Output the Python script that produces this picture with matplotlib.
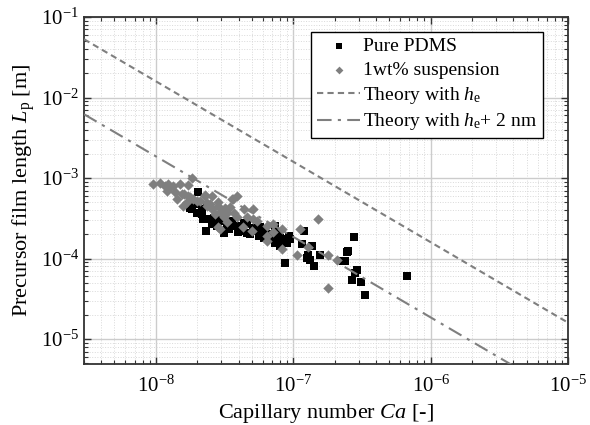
import numpy as np
import matplotlib
matplotlib.use("Agg")
from matplotlib import pyplot as plt
from matplotlib.ticker import LogLocator, NullFormatter, FuncFormatter

plt.rcParams['font.family'] = ['Liberation Serif', 'DejaVu Serif']
plt.rcParams['mathtext.fontset'] = 'custom'
plt.rcParams['mathtext.rm'] = 'Liberation Serif'
plt.rcParams['mathtext.it'] = 'Liberation Serif:italic'

# Pure PDMS: Ca in units of 1e-8, Lp in units of 1e-4 m
pdms_ca = [2.03, 1.83, 2.11, 2.36, 2.33, 2.63, 2.79, 3.11, 3.38, 3.90, 4.24, 4.60,
           4.87, 5.44, 6.08, 6.61, 7.40, 8.04, 9.00, 9.51, 8.75, 11.88, 11.56, 12.9,
           13.3, 14.05, 15.7, 23.9, 25.2, 27.5, 26.7, 29.0, 24.6, 22.98, 28.2, 31.05,
           33.4, 67.8, 9.25, 7.82, 8.04, 13.68, 12.59, 2.17, 1.99, 1.78, 2.49, 3.11,
           2.17, 2.79, 2.94, 3.29, 3.58, 4.35, 4.60, 5.13, 5.59, 6.26, 6.99, 7.82,
           8.52, 9.25, 7.40, 1.94, 2.21, 2.58, 3.60, 3.98, 5.75]
pdms_lp = [6.79, 4.08, 3.71, 4.49, 2.19, 3.22, 2.53, 2.92, 2.30, 2.53, 2.19, 2.65,
           1.99, 2.19, 1.81, 1.99, 2.53, 1.81, 1.57, 1.73, 0.884, 2.19, 1.50, 1.12,
           0.97, 0.80, 1.12, 0.925, 1.23, 1.87, 0.547, 0.73, 1.21, 0.925, 0.66, 0.516,
           0.356, 0.61, 1.76, 1.81, 1.42, 1.42, 1.02, 4.08, 3.71, 4.29, 3.06, 2.09,
           3.54, 2.65, 3.22, 2.41, 2.92, 2.79, 2.09, 2.41, 1.90, 2.19, 1.90, 2.09,
           1.73, 1.90, 1.57, 4.71, 3.06, 2.65, 2.65, 2.11, 2.44]

# 1wt% suspension
susp_ca = [0.948, 1.078, 1.172, 1.275, 1.386, 1.507, 1.703, 1.834, 1.55, 1.72,
           1.585, 1.875, 2.107, 2.29, 2.49, 2.85, 2.71, 3.29, 3.66, 3.48, 3.90, 2.94,
           4.60, 5.12, 5.44, 4.33, 5.01, 6.44, 7.16, 8.28, 6.44, 8.28, 10.64, 11.24,
           12.8, 15.2, 17.98, 20.8, 17.98, 7.16, 1.23, 1.34, 1.206, 1.426, 1.59, 1.78,
           1.99, 1.686, 2.29, 2.36, 2.56, 2.85, 2.94, 3.11, 2.85, 3.29, 2.36, 3.20,
           3.58, 3.68, 4.35, 5.13, 6.44, 2.56, 3.90]
susp_lp = [8.54, 8.79, 7.97, 7.68, 6.65, 8.37, 8.13, 10.0, 6.28, 5.98,
           4.49, 5.44, 5.18, 6.10, 4.71, 4.49, 3.54, 3.71, 5.44, 4.32, 3.25, 2.30,
           3.25, 4.08, 2.92, 2.44, 2.19, 1.90, 2.11, 2.30, 1.64, 1.33, 1.12, 2.30,
           1.41, 3.06, 1.12, 0.97, 0.435, 2.65, 8.37, 7.90, 6.90, 5.44, 6.28, 5.76,
           5.18, 4.99, 5.98, 4.49, 4.08, 4.99, 3.75, 3.25, 2.44, 2.81, 4.95, 4.29,
           5.44, 3.71, 4.08, 3.06, 2.53, 5.98, 5.98]

# theory lines (end points, straight on log-log axes)
theory_ca = [3e-9, 1e-5]
theory_he = [5.3e-2, 1.6e-5]
theory_he2 = [6.2e-3, 1.86e-6]

pdms_ca = np.array(pdms_ca) * 1e-8
pdms_lp = np.array(pdms_lp) * 1e-4
susp_ca = np.array(susp_ca) * 1e-8
susp_lp = np.array(susp_lp) * 1e-4


def pow_fmt(v, pos):
    e = int(round(np.log10(v)))
    return r'$\mathregular{10^{%d}}$' % e


fig = plt.figure(figsize=(5.9, 4.25), dpi=100)
ax = fig.add_axes([0.1424, 0.1435, 0.8203, 0.8165])

grey = '#7f7f7f'
ax.scatter(pdms_ca, pdms_lp, marker='s', s=36, color='black', linewidths=0,
           label='Pure PDMS', zorder=3)
ax.scatter(susp_ca, susp_lp, marker='D', s=28, color=grey, linewidths=0,
           label='1wt% suspension', zorder=3)
ax.plot(theory_ca, theory_he, ls=(0, (3, 2)), color=grey, lw=1.5,
        label=r'Theory with $h_\mathrm{e}$', zorder=4)
ax.plot(theory_ca, theory_he2, ls=(0, (7, 3, 1.5, 3)), color=grey, lw=1.5,
        label=r'Theory with $h_\mathrm{e}$+ 2 nm', zorder=4)

ax.set_xscale('log')
ax.set_yscale('log')
ax.set_xlim(3e-9, 1e-5)
ax.set_ylim(4.9e-6, 1e-1)

ax.xaxis.set_major_locator(LogLocator(base=10, numticks=10))
ax.yaxis.set_major_locator(LogLocator(base=10, numticks=10))
ax.xaxis.set_minor_locator(LogLocator(base=10, subs=np.arange(2, 10), numticks=10))
ax.yaxis.set_minor_locator(LogLocator(base=10, subs=np.arange(2, 10), numticks=10))
ax.xaxis.set_major_formatter(FuncFormatter(pow_fmt))
ax.yaxis.set_major_formatter(FuncFormatter(pow_fmt))
ax.xaxis.set_minor_formatter(NullFormatter())
ax.yaxis.set_minor_formatter(NullFormatter())

ax.grid(True, which='major', color='#cccccc', lw=1.0, zorder=0)
ax.grid(True, which='minor', color='#d9d9d9', lw=0.7, ls=':', zorder=0)
ax.set_axisbelow(True)

ax.tick_params(which='both', direction='in', top=True, right=True, labelsize=15,
               colors='#333333', labelcolor='black')
ax.tick_params(which='major', length=5, width=1)
ax.tick_params(which='minor', length=3, width=0.8)
ax.tick_params(axis='x', pad=8)
for sp in ax.spines.values():
    sp.set_linewidth(1.3)
    sp.set_color('#333333')

ax.set_xlabel(r'Capillary number $Ca$ [-]', fontsize=16, labelpad=4)
ax.set_ylabel(r'Precursor film length $L_\mathrm{p}$ [m]', fontsize=16, labelpad=3)

leg = ax.legend(loc='upper right', bbox_to_anchor=(0.948, 0.957), fontsize=14,
                frameon=True, fancybox=False, edgecolor='black', framealpha=1,
                borderpad=0.3, labelspacing=0.3, handlelength=2.2,
                handletextpad=0.15, markerscale=0.75, borderaxespad=0)
leg.get_frame().set_linewidth(1.0)

fig.savefig('out.png', dpi=100)
